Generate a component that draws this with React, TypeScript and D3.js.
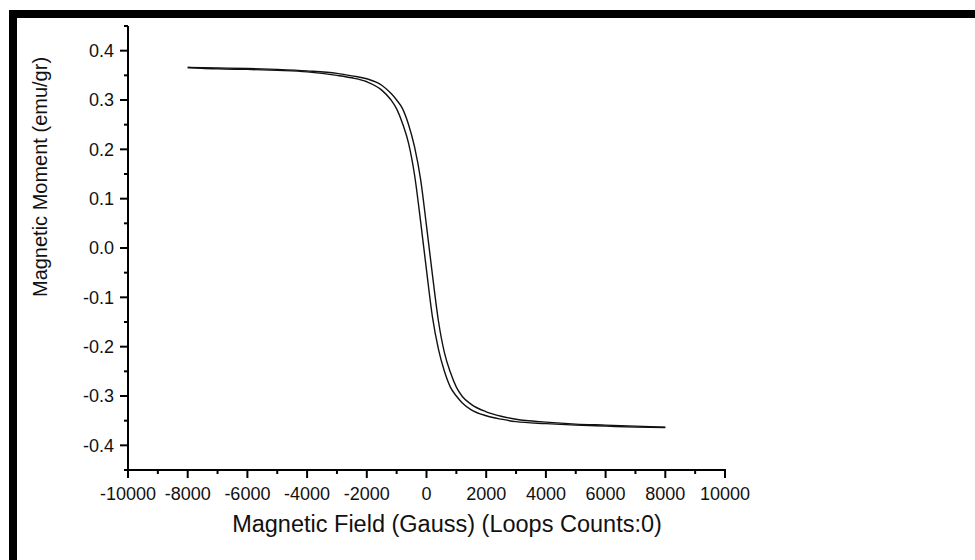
import React from "react";
import * as d3 from "d3";

// Applied field (Gauss) sampled along both branches of the loop
const field = [
  -8000, -7000, -6000, -5000, -4000, -3000, -2500, -2000, -1500, -1200, -1000,
  -800, -600, -400, -200, 0, 200, 400, 600, 800, 1000, 1200, 1500, 2000, 2500,
  3000, 4000, 5000, 6000, 7000, 8000,
];

// Magnetic moment (emu/gr), branch shifted toward positive field
const momentUpper = [
  0.366, 0.365, 0.364, 0.362, 0.359, 0.354, 0.349, 0.343, 0.33, 0.314, 0.3,
  0.282, 0.25, 0.205, 0.14, 0.045, -0.055, -0.148, -0.212, -0.252, -0.282,
  -0.301, -0.317, -0.332, -0.341, -0.347, -0.353, -0.357, -0.359, -0.361, -0.363,
];

// Magnetic moment (emu/gr), branch shifted toward negative field
const momentLower = [
  0.366, 0.363, 0.362, 0.36, 0.357, 0.35, 0.345, 0.337, 0.32, 0.301, 0.282,
  0.252, 0.212, 0.148, 0.055, -0.045, -0.14, -0.205, -0.25, -0.282, -0.3,
  -0.314, -0.328, -0.34, -0.347, -0.352, -0.356, -0.359, -0.361, -0.363, -0.364,
];

const xMajorTicks = [-10000, -8000, -6000, -4000, -2000, 0, 2000, 4000, 6000, 8000, 10000];
const xMinorTicks = [-9000, -7000, -5000, -3000, -1000, 1000, 3000, 5000, 7000, 9000];
const yMajorTicks = [-0.4, -0.3, -0.2, -0.1, 0.0, 0.1, 0.2, 0.3, 0.4];
const yMinorTicks = [-0.45, -0.35, -0.25, -0.15, -0.05, 0.05, 0.15, 0.25, 0.35, 0.45];

const W = 975;
const H = 560;
const FONT = "'Liberation Sans', Arial, Helvetica, sans-serif";

// plain hyphen for negative numbers
const fmtY = (v: number) => v.toFixed(1).replace("\u2212", "-");

export default function App() {
  const x = d3.scaleLinear().domain([-10000, 10000]).range([128, 725]);
  const y = d3.scaleLinear().domain([-0.45, 0.45]).range([470, 26]);

  const line = d3
    .line<number>()
    .x((_, i) => x(field[i]))
    .y((d) => y(d))
    .curve(d3.curveMonotoneX);

  const x0 = x.range()[0];
  const y0 = y.range()[0];

  return (
    <svg
      width={W}
      height={H}
      style={{ position: "absolute", left: 0, top: 0, background: "#fff" }}
    >
      <rect x={0} y={0} width={W} height={H} fill="#fff" />
      {/* frame bars */}
      <rect x={9} y={10} width={W - 9} height={8} fill="#000" />
      <rect x={9} y={10} width={8} height={H - 10} fill="#000" />

      {/* curves */}
      <path d={line(momentUpper) || ""} fill="none" stroke="#111" strokeWidth={1.4} />
      <path d={line(momentLower) || ""} fill="none" stroke="#111" strokeWidth={1.4} />

      {/* y axis */}
      <line x1={x0} x2={x0} y1={y.range()[1]} y2={y0 + 1} stroke="#000" strokeWidth={2} />
      {yMajorTicks.map((t) => (
        <g key={"ym" + t}>
          <line x1={x0 - 8} x2={x0} y1={y(t)} y2={y(t)} stroke="#000" strokeWidth={2} />
          <text
            x={x0 - 14}
            y={y(t)}
            dy="0.36em"
            textAnchor="end"
            fontFamily={FONT}
            fontSize={18}
            fill="#111"
          >
            {fmtY(t)}
          </text>
        </g>
      ))}
      {yMinorTicks.map((t) => (
        <line key={"yn" + t} x1={x0 - 4} x2={x0} y1={y(t)} y2={y(t)} stroke="#000" strokeWidth={2} />
      ))}

      {/* x axis */}
      <line x1={x0 - 1} x2={x.range()[1] + 1} y1={y0} y2={y0} stroke="#000" strokeWidth={2} />
      {xMajorTicks.map((t) => (
        <g key={"xm" + t}>
          <line x1={x(t)} x2={x(t)} y1={y0} y2={y0 + 8} stroke="#000" strokeWidth={2} />
          <text
            x={x(t)}
            y={y0 + 30}
            textAnchor="middle"
            fontFamily={FONT}
            fontSize={18}
            fill="#111"
          >
            {String(t)}
          </text>
        </g>
      ))}
      {xMinorTicks.map((t) => (
        <line key={"xn" + t} x1={x(t)} x2={x(t)} y1={y0} y2={y0 + 4} stroke="#000" strokeWidth={2} />
      ))}

      {/* axis titles */}
      <text
        x={447}
        y={532}
        textAnchor="middle"
        fontFamily={FONT}
        fontSize={23.5}
        fill="#111"
      >
        Magnetic Field (Gauss) (Loops Counts:0)
      </text>
      <text
        transform={`translate(47, 177) rotate(-90)`}
        textAnchor="middle"
        fontFamily={FONT}
        fontSize={20}
        fill="#111"
      >
        Magnetic Moment (emu/gr)
      </text>
    </svg>
  );
}
